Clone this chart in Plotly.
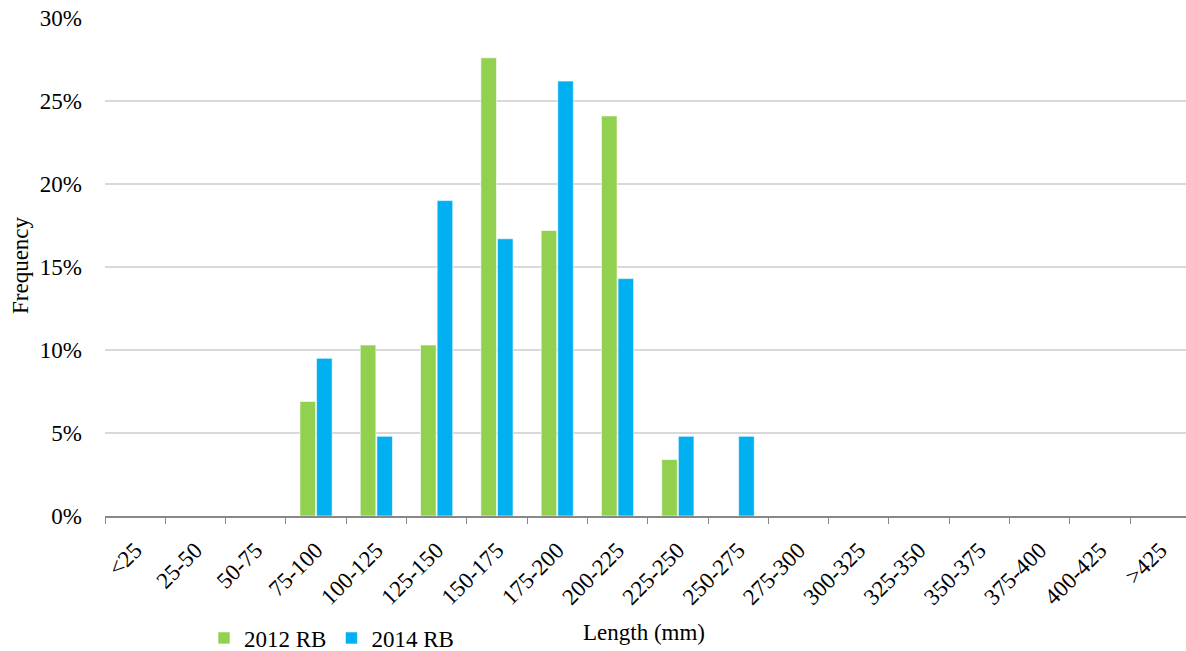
import plotly.graph_objects as go

categories = ["<25", "25-50", "50-75", "75-100", "100-125", "125-150", "150-175",
              "175-200", "200-225", "225-250", "250-275", "275-300", "300-325",
              "325-350", "350-375", "375-400", "400-425", ">425"]
rb_2012 = [0, 0, 0, 0.069, 0.103, 0.103, 0.276, 0.172, 0.241, 0.034, 0, 0, 0, 0, 0, 0, 0, 0]
rb_2014 = [0, 0, 0, 0.095, 0.048, 0.190, 0.167, 0.262, 0.143, 0.048, 0.048, 0, 0, 0, 0, 0, 0, 0]

W, H = 1186, 651
L, R, T, B = 105, 0, 18, 135
pw = W - L - R
ph = H - T - B

font = "Liberation Serif, Times New Roman, serif"
FS = 23

fig = go.Figure()
fig.add_trace(go.Bar(x=categories, y=rb_2012, name="2012 RB",
                     marker=dict(color="#92d050", line=dict(color="white", width=0.6))))
fig.add_trace(go.Bar(x=categories, y=rb_2014, name="2014 RB",
                     marker=dict(color="#00b0f0", line=dict(color="white", width=0.6))))

cat_w = 60.3
fig.update_layout(
    width=W, height=H,
    margin=dict(l=L, r=R, t=T, b=B, autoexpand=False),
    plot_bgcolor="white", paper_bgcolor="white",
    barmode="group", bargap=0.45, bargroupgap=0.06,
    font=dict(family=font, size=FS, color="black"),
    showlegend=True,
    legend=dict(orientation="h", x=(204 - L) / pw, y=(H - B - 638) / ph,
                xanchor="left", yanchor="middle",
                font=dict(family=font, size=FS, color="black"),
                itemwidth=30, tracegroupgap=0, bgcolor="rgba(0,0,0,0)"),
    xaxis=dict(
        type="category",
        range=[-0.5, -0.5 + pw / cat_w],
        tickangle=-45,
        tickson="boundaries",
        ticks="outside", ticklen=6, tickcolor="#888888", tickwidth=1.3,
        showline=True, linecolor="#888888", linewidth=1.5,
        showgrid=False, automargin=False, ticklabelstandoff=10,
        tickfont=dict(family=font, size=FS, color="black"),
    ),
    yaxis=dict(
        range=[0, 0.30],
        dtick=0.05,
        tickformat=".0%",
        showgrid=True, gridcolor="#d9d9d9", gridwidth=1.5,
        zeroline=False, showline=False, automargin=False,
        ticks="", ticklabelstandoff=22,
        tickfont=dict(family=font, size=FS, color="black"),
    ),
    annotations=[
        dict(text="Length (mm)", xref="paper", yref="paper",
             x=(644 - L) / pw, y=(H - B - 632) / ph, xanchor="center", yanchor="middle",
             showarrow=False, font=dict(family=font, size=FS, color="black")),
        dict(text="Frequency", xref="paper", yref="paper",
             x=(20 - L) / pw, y=(H - B - 265) / ph, xanchor="center", yanchor="middle",
             textangle=-90, showarrow=False, font=dict(family=font, size=FS, color="black")),
    ],
)

fig.write_html("out.html", config={"displayModeBar": False},
               post_script="document.body.style.margin='0';document.body.style.overflow='hidden';")
